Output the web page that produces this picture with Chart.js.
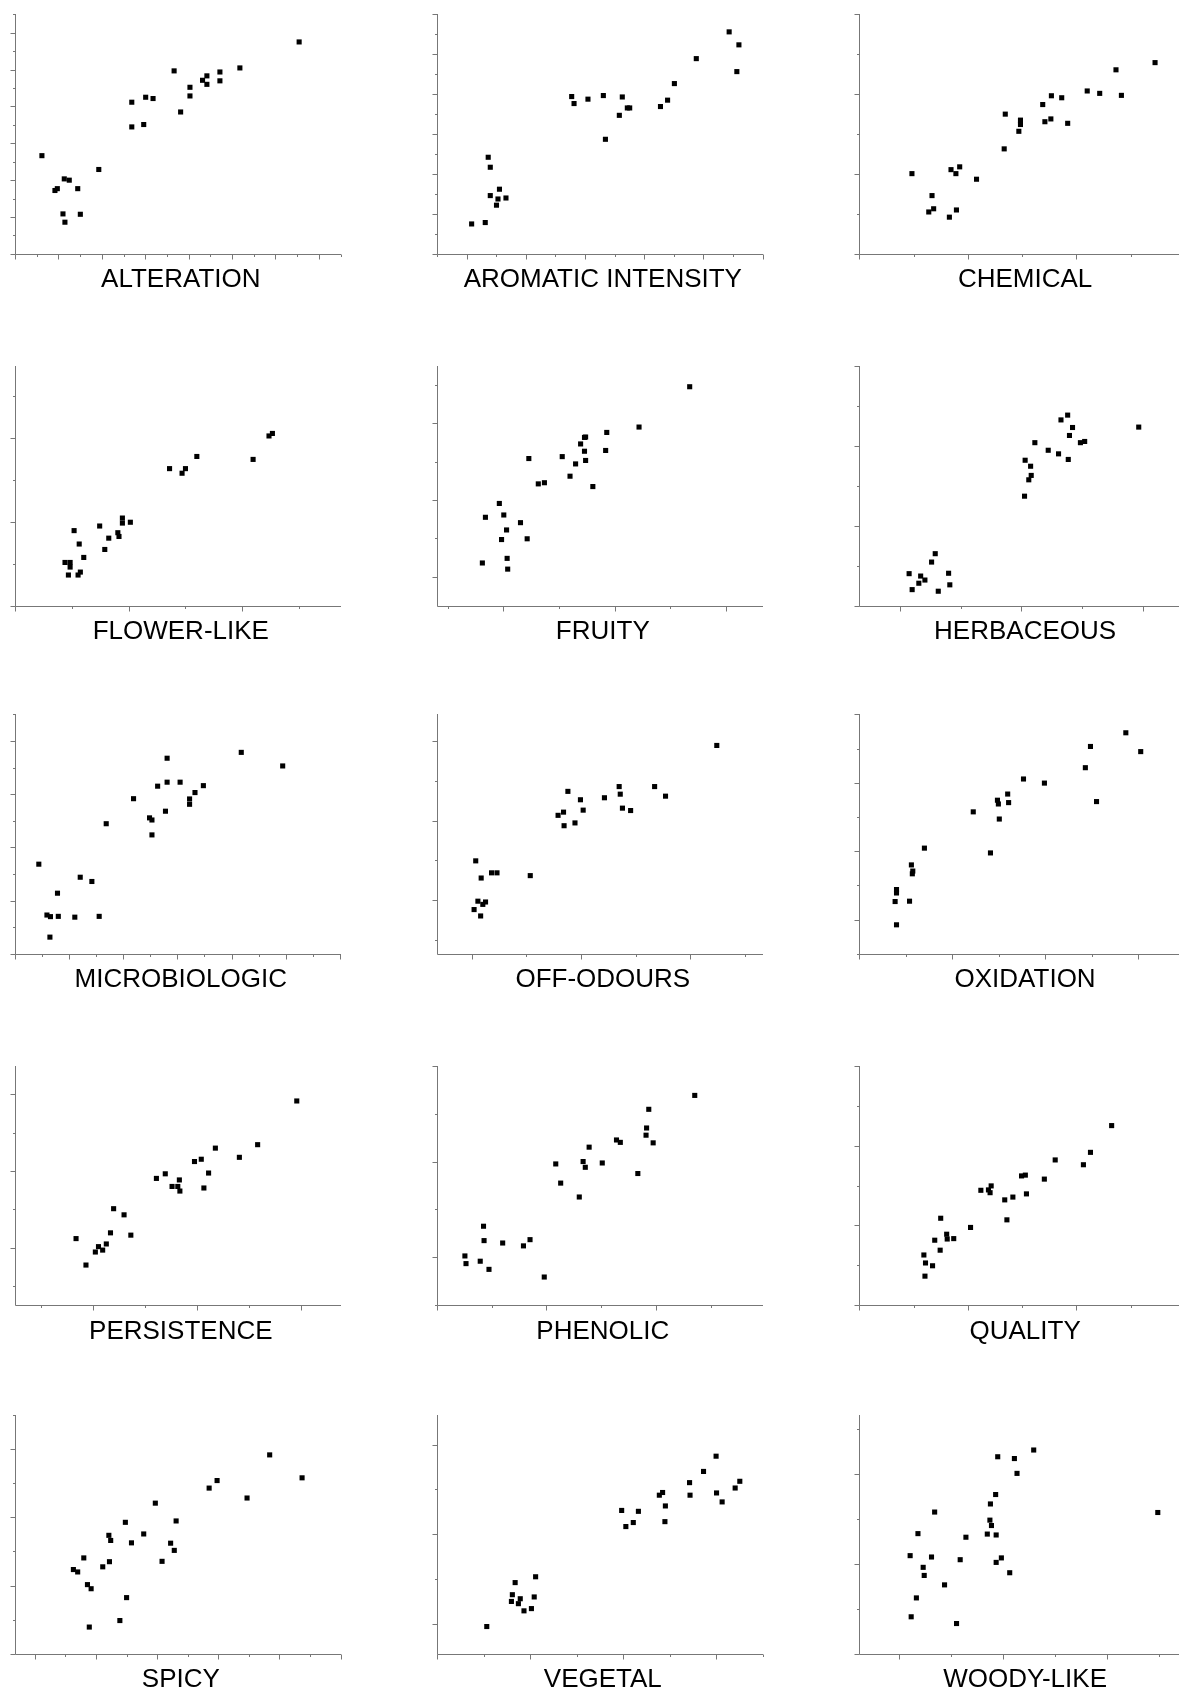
<!DOCTYPE html>
<html>
<head>
<meta charset="utf-8">
<script src="https://cdn.jsdelivr.net/npm/chart.js@4.4.1/dist/chart.umd.min.js"></script>
<style>
  html, body { margin: 0; padding: 0; background: #fff; overflow: hidden; width: 1179px; height: 1693px; }
  #sheet { position: relative; width: 1179px; height: 1693px; overflow: hidden; }
  #sheet canvas { position: absolute; }
</style>
</head>
<body>
<div id="sheet"></div>
<script>
// Sensory attributes, one scatter panel each (read row by row, three per row)
const attributes = [
  "ALTERATION", "AROMATIC INTENSITY", "CHEMICAL",
  "FLOWER-LIKE", "FRUITY", "HERBACEOUS",
  "MICROBIOLOGIC", "OFF-ODOURS", "OXIDATION",
  "PERSISTENCE", "PHENOLIC", "QUALITY",
  "SPICY", "VEGETAL", "WOODY-LIKE"
];

// [x, y] pairs per attribute, in tick units of each panel
const alteration = [[1.24,5.33],[1.84,3.44],[1.95,3.54],[2.27,4.07],[2.50,4.00],[2.89,3.54],[2.21,2.17],[2.30,1.72],[3.01,2.15],[3.86,4.58],[5.38,8.23],[5.38,6.89],[6.02,8.50],[6.36,8.43],[5.93,7.02],[7.33,9.93],[7.63,7.70],[8.06,9.04],[8.06,8.57],[8.64,9.42],[8.84,9.66],[8.84,9.20],[9.44,9.87],[9.44,9.39],[10.36,10.09],[13.09,11.50]];
const aromaticIntensity = [[1.17,1.50],[1.63,1.57],[1.73,4.84],[1.80,4.34],[1.80,2.92],[2.01,2.44],[2.06,2.75],[2.11,3.24],[2.33,2.80],[4.55,7.88],[4.63,7.53],[5.10,7.75],[5.62,7.93],[5.69,5.74],[6.16,6.94],[6.26,7.86],[6.43,7.31],[6.51,7.31],[7.55,7.38],[7.79,7.70],[8.02,8.53],[8.76,9.78],[9.87,11.12],[10.20,10.47],[10.13,9.13]];
const chemical = [[0.97,2.01],[1.34,1.46],[1.28,1.05],[1.37,1.13],[1.69,2.11],[1.78,2.01],[1.85,2.18],[1.66,0.92],[1.79,1.10],[2.16,1.87],[2.67,2.63],[2.69,3.50],[2.94,3.07],[2.97,3.35],[2.97,3.24],[3.38,3.74],[3.42,3.31],[3.53,3.38],[3.54,3.96],[3.73,3.91],[3.84,3.27],[4.20,4.08],[4.43,4.02],[4.73,4.61],[4.83,3.97],[5.45,4.79]];
const flowerLike = [[1.04,1.79],[1.13,1.47],[0.88,1.03],[0.97,1.03],[0.97,0.92],[1.21,1.15],[0.94,0.73],[1.11,0.73],[1.15,0.80],[1.49,1.90],[1.58,1.34],[1.65,1.61],[1.81,1.74],[1.83,1.65],[1.89,2.09],[1.89,1.97],[2.03,1.99],[2.72,3.27],[2.94,3.16],[3.00,3.27],[3.20,3.56],[4.19,3.49],[4.47,4.05],[4.53,4.11]];
const fruity = [[-0.375,0.36],[-0.32,1.55],[-0.07,1.91],[0.01,1.61],[0.06,1.22],[-0.03,0.97],[0.07,0.48],[0.08,0.20],[0.31,1.41],[0.43,0.99],[0.46,3.08],[0.63,2.42],[0.74,2.45],[1.06,3.13],[1.20,2.62],[1.30,2.94],[1.39,3.46],[1.46,3.63],[1.48,3.64],[1.46,3.27],[1.48,3.03],[1.61,2.35],[1.84,3.29],[1.86,3.76],[2.44,3.90],[3.35,4.95]];
const herbaceous = [[0.15,0.80],[0.20,0.40],[0.31,0.56],[0.34,0.74],[0.41,0.64],[0.52,1.09],[0.58,1.30],[0.63,0.36],[0.80,0.81],[0.82,0.52],[2.05,2.74],[2.06,3.64],[2.12,3.15],[2.15,3.49],[2.16,3.26],[2.22,4.08],[2.44,3.89],[2.61,3.80],[2.65,4.65],[2.76,4.77],[2.77,3.66],[2.79,4.26],[2.84,4.46],[2.97,4.08],[3.04,4.11],[3.93,4.47]];
const microbiologic = [[0.88,3.37],[1.18,1.46],[1.31,1.40],[1.57,2.28],[1.60,1.41],[1.29,0.63],[2.21,1.38],[2.41,2.88],[2.84,2.72],[3.11,1.41],[3.37,4.89],[4.38,5.83],[4.97,5.11],[5.06,5.03],[5.06,4.47],[5.27,6.30],[5.56,5.36],[5.62,6.45],[5.62,7.35],[6.10,6.45],[6.45,5.82],[6.45,5.62],[6.65,6.06],[6.96,6.32],[8.36,7.57],[9.89,7.06]];
const offOdours = [[0.07,1.99],[0.17,1.56],[0.36,1.69],[0.46,1.69],[0.11,0.98],[0.25,0.96],[0.20,0.90],[0.04,0.77],[0.16,0.61],[1.07,1.62],[1.58,3.13],[1.68,3.21],[1.69,2.87],[1.76,3.73],[1.89,2.94],[1.99,3.52],[2.04,3.26],[2.43,3.57],[2.70,3.85],[2.72,3.66],[2.76,3.31],[2.91,3.25],[3.35,3.85],[3.55,3.61],[4.49,4.88]];
const oxidation = [[0.77,1.53],[0.80,1.88],[0.80,1.78],[0.80,0.85],[1.08,1.54],[1.12,2.60],[1.14,2.34],[1.15,2.42],[1.40,3.09],[2.45,4.15],[2.82,2.95],[2.97,4.49],[2.99,4.38],[3.01,3.94],[3.19,4.67],[3.21,4.42],[3.53,5.11],[3.98,4.99],[4.86,5.44],[4.97,6.06],[5.10,4.45],[5.73,6.46],[6.05,5.91]];
const persistence = [[-0.32,1.24],[-0.13,0.55],[0.05,0.89],[0.11,1.03],[0.19,0.94],[0.26,1.10],[0.34,1.39],[0.40,2.02],[0.60,1.86],[0.73,1.33],[1.22,2.81],[1.39,2.93],[1.52,2.60],[1.63,2.60],[1.66,2.77],[1.67,2.48],[1.95,3.25],[2.08,3.31],[2.22,2.95],[2.13,2.56],[2.35,3.60],[2.81,3.36],[3.16,3.69],[3.91,4.83]];
const phenolic = [[0.51,1.03],[0.53,0.87],[0.79,0.92],[0.95,0.75],[0.85,1.65],[0.86,1.35],[1.20,1.30],[1.58,1.24],[1.70,1.37],[1.96,0.59],[2.17,2.95],[2.26,2.55],[2.60,2.26],[2.67,3.00],[2.71,2.88],[2.78,3.30],[3.02,2.97],[3.28,3.45],[3.35,3.40],[3.67,2.75],[3.82,3.55],[3.83,3.70],[3.87,4.09],[3.95,3.39],[4.71,4.38]];
const quality = [[1.19,1.26],[1.22,1.06],[1.21,0.73],[1.35,0.99],[1.39,1.63],[1.49,1.38],[1.50,2.18],[1.61,1.78],[1.62,1.66],[1.74,1.67],[2.05,1.95],[2.24,2.88],[2.38,2.89],[2.41,2.82],[2.43,2.99],[2.68,2.64],[2.72,2.14],[2.83,2.71],[2.99,3.24],[3.06,3.26],[3.08,2.79],[3.41,3.16],[3.61,3.64],[4.13,3.52],[4.26,3.83],[4.65,4.50]];
const spicy = [[1.26,2.47],[1.40,2.40],[1.60,2.81],[1.72,2.03],[1.84,1.91],[1.78,0.79],[2.22,2.55],[2.44,2.70],[2.42,3.47],[2.48,3.32],[2.78,0.98],[2.96,3.85],[3.00,1.65],[3.16,3.25],[3.56,3.51],[3.94,4.41],[4.16,2.71],[4.44,3.24],[4.56,3.03],[4.62,3.89],[5.70,4.85],[5.96,5.07],[6.94,4.56],[7.68,5.82],[8.74,5.15]];
const vegetal = [[1.07,-0.06],[1.60,0.50],[1.62,0.65],[1.68,0.92],[1.75,0.45],[1.79,0.56],[1.87,0.29],[2.03,0.34],[2.09,0.60],[2.12,1.05],[3.97,2.53],[4.06,2.17],[4.22,2.26],[4.33,2.51],[4.78,2.87],[4.85,2.93],[4.91,2.63],[4.90,2.28],[5.43,3.15],[5.44,2.87],[5.73,3.40],[6.00,3.74],[6.01,2.92],[6.13,2.72],[6.41,3.03],[6.51,3.18]];
const woodyLike = [[0.22,2.19],[0.24,0.83],[0.34,1.25],[0.37,2.68],[0.47,1.93],[0.49,1.75],[0.63,2.16],[0.69,3.16],[0.88,1.54],[1.11,0.68],[1.18,2.10],[1.29,2.60],[1.70,2.67],[1.75,2.98],[1.76,3.34],[1.78,2.86],[1.86,3.55],[1.87,2.65],[1.87,2.04],[1.90,4.39],[1.97,2.14],[2.13,1.81],[2.22,4.35],[2.27,4.02],[2.59,4.54],[4.97,3.15]];

const panelPoints = [
  alteration, aromaticIntensity, chemical,
  flowerLike, fruity, herbaceous,
  microbiologic, offOdours, oxidation,
  persistence, phenolic, quality,
  spicy, vegetal, woodyLike
];

// Axis extents per panel (tick every unit)
const xRanges = [[0,15],[0,11],[0,6],[0,5.73],[-1.19,4.66],[-0.67,4.69],[0,12.03],[-0.64,5.33],[0,7],[-1.49,4.75],[0,5.95],[0,6],[-0.65,10],[0,7],[-0.755,5.49]];
const yRanges = [[0,13],[0,12],[0,6],[0,5.72],[-0.75,5.49],[0,6],[0,9],[-0.34,5.66],[0,7],[-0.5,5.75],[0,5],[0,6],[0,7],[-0.675,4.67],[0,5.33]];
// Parity of the longer (major) ticks on each axis
const xMajorParity = [0,1,0,0,0,0,0,0,0,0,0,0,0,0,0];
const yMajorParity = [0,0,0,0,0,0,0,1,1,1,1,0,0,0,0];

// Frame placement of the panels
const colLeft = [15, 437, 859.3];
const rowTop = [14.3, 366, 714.3, 1065.7, 1414.5];
const plotW = 325.6;
const plotH = 239.6;
const TITLE_NUDGE = 3;

// Draws the L-shaped axes and their tick marks from each chart's scales
const panelAxes = {
  id: 'panelAxes',
  afterLayout(chart) {
    // the caption sits a little right of the frame centre
    const t = chart.titleBlock;
    if (t) { t.left += TITLE_NUDGE; t.right += TITLE_NUDGE; }
  },
  beforeDatasetsDraw(chart, args, opts) {
    const { ctx, chartArea: a } = chart;
    const xs = chart.scales.x, ys = chart.scales.y;
    const L = Math.round(a.left) + 0.5;
    const B = Math.round(a.bottom) + 0.5;
    ctx.save();
    ctx.strokeStyle = opts.color;
    ctx.lineWidth = 1;
    ctx.beginPath();
    ctx.moveTo(L, Math.round(a.top));
    ctx.lineTo(L, B);
    ctx.lineTo(Math.round(a.right), B);
    for (let v = Math.ceil(xs.min - 1e-6); v <= xs.max + 1e-6; v++) {
      const px = Math.round(xs.getPixelForValue(v)) + 0.5;
      const len = (((v % 2) + 2) % 2) === opts.xMajor ? 5 : 2.5;
      ctx.moveTo(px, B);
      ctx.lineTo(px, B + len);
    }
    for (let v = Math.ceil(ys.min - 1e-6); v <= ys.max + 1e-6; v++) {
      const py = Math.round(ys.getPixelForValue(v)) + 0.5;
      const len = (((v % 2) + 2) % 2) === opts.yMajor ? 5 : 2.5;
      ctx.moveTo(L, py);
      ctx.lineTo(L - len, py);
    }
    ctx.stroke();
    ctx.restore();
  }
};

const sheet = document.getElementById('sheet');
const TITLE_SIZE = 26, TITLE_GAP = 10.5;
const titleBox = TITLE_SIZE * 1.2 + TITLE_GAP;

attributes.forEach((name, i) => {
  const col = i % 3, row = Math.floor(i / 3);
  const left = colLeft[col], top = rowTop[row];
  const cLeft = Math.floor(left) - 20;
  const cTop = Math.floor(top) - 10;
  const W = 376, H = 312;
  const padL = left - cLeft;
  const padR = W - padL - plotW;
  const padT = top - cTop;
  const padB = H - padT - plotH - titleBox;

  const canvas = document.createElement('canvas');
  canvas.width = W; canvas.height = H;
  canvas.style.left = cLeft + 'px';
  canvas.style.top = cTop + 'px';
  canvas.style.width = W + 'px';
  canvas.style.height = H + 'px';
  sheet.appendChild(canvas);

  new Chart(canvas, {
    type: 'scatter',
    data: {
      datasets: [{
        data: panelPoints[i].map(([x, y]) => ({ x, y })),
        pointStyle: 'rect',
        pointRadius: 3.6,
        backgroundColor: '#000',
        borderColor: '#000',
        borderWidth: 0,
        clip: false
      }]
    },
    options: {
      responsive: false,
      animation: false,
      devicePixelRatio: 1,
      events: [],
      layout: { padding: { left: padL, right: padR, top: padT, bottom: padB } },
      scales: {
        x: { type: 'linear', min: xRanges[i][0], max: xRanges[i][1], display: false },
        y: { type: 'linear', min: yRanges[i][0], max: yRanges[i][1], display: false }
      },
      plugins: {
        legend: { display: false },
        tooltip: { enabled: false },
        title: {
          display: true,
          text: name,
          position: 'bottom',
          color: '#000',
          font: { family: '"Liberation Sans", Arial, sans-serif', size: TITLE_SIZE, weight: 'normal', lineHeight: 1.2 },
          padding: { top: TITLE_GAP, bottom: 0 }
        },
        panelAxes: { color: '#777777', xMajor: xMajorParity[i], yMajor: yMajorParity[i] }
      }
    },
    plugins: [panelAxes]
  });
});
</script>
</body>
</html>
